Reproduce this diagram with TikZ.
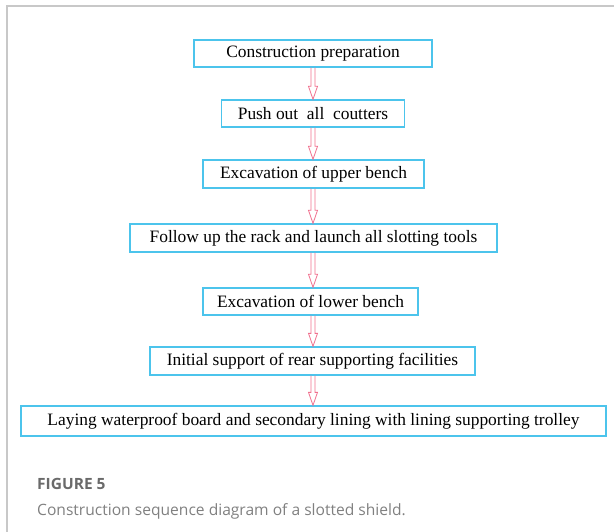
\documentclass[tikz,border=0pt]{standalone}
\usepackage{fontspec}
\setmainfont{Liberation Serif}
\newfontfamily\capfont{Open Sans}
\usetikzlibrary{calc}
\definecolor{boxblue}{HTML}{4CC4EC}
\definecolor{arrowpink}{HTML}{F0708E}
\definecolor{framegrey}{HTML}{C8C8C8}
\definecolor{capgrey}{HTML}{6A6A6A}
\tikzset{
  stepbox/.style={draw=boxblue, line width=1.3pt, minimum height=27pt, inner sep=0pt, font=\fontsize{17.4}{19}\selectfont},
  flowline/.style={draw=arrowpink, line width=0.8pt, line join=miter}
}
% hollow arrow from bottom of one box to top of the next
\def\flowarrow(#1)(#2){\draw[flowline] ($(313,0 |- #1.south)+(-2pt,0)$) -- ($(313,0 |- #2.north)+(-2pt,13pt)$) -- ($(313,0 |- #2.north)+(-4.5pt,13pt)$) -- (313,0 |- #2.north) -- ($(313,0 |- #2.north)+(4.5pt,13pt)$) -- ($(313,0 |- #2.north)+(2pt,13pt)$) -- ($(313,0 |- #1.south)+(2pt,0)$);}

\begin{document}
\begin{tikzpicture}[x=1pt,y=-1pt]
				%%%%% FRAME %%%%%
				\useasboundingbox (0,0) rectangle (614,532);
				\draw[framegrey, line width=1.8pt] (7,532) -- (7,6) -- (614,6);
				
				%%%%% STEPS %%%%%
				\node[stepbox, minimum width=238pt] (prep) at (313,53.5) {Construction preparation};
				\node[stepbox, minimum width=183pt] (push) at (313,113.5) {Push out\ \ all\ \ coutters};
				\node[stepbox, minimum width=221pt, minimum height=28pt] (upper) at (313.5,174) {Excavation of upper bench};
				\node[stepbox, minimum width=367pt, minimum height=28pt] (rack) at (313.5,238) {Follow up the rack and launch all slotting tools};
				\node[stepbox, minimum width=215pt] (lower) at (310.5,301.5) {Excavation of lower bench};
				\node[stepbox, minimum width=325pt, minimum height=28pt] (rear) at (312.5,361) {Initial support of rear supporting facilities};
				\node[stepbox, minimum width=585pt, minimum height=30pt] (lining) at (313.5,421) {Laying waterproof board and secondary lining with lining supporting trolley};
				
				%%%%% ARROWS %%%%%
				\flowarrow(prep)(push)
				\flowarrow(push)(upper)
				\flowarrow(upper)(rack)
				\flowarrow(rack)(lower)
				\flowarrow(lower)(rear)
				\flowarrow(rear)(lining)
				
				%%%%% CAPTION %%%%%
				\node[anchor=base west, inner sep=0pt, text=capgrey, font=\capfont\bfseries\fontsize{15.5}{18}\selectfont] (fig) at (37,489) {FIGURE 5};
				\node[anchor=base west, inner sep=0pt, text=capgrey!85, font=\capfont\fontsize{15.6}{18}\selectfont] (cap) at (37,515.5) {Construction sequence diagram of a slotted shield.};
\end{tikzpicture}
\end{document}
